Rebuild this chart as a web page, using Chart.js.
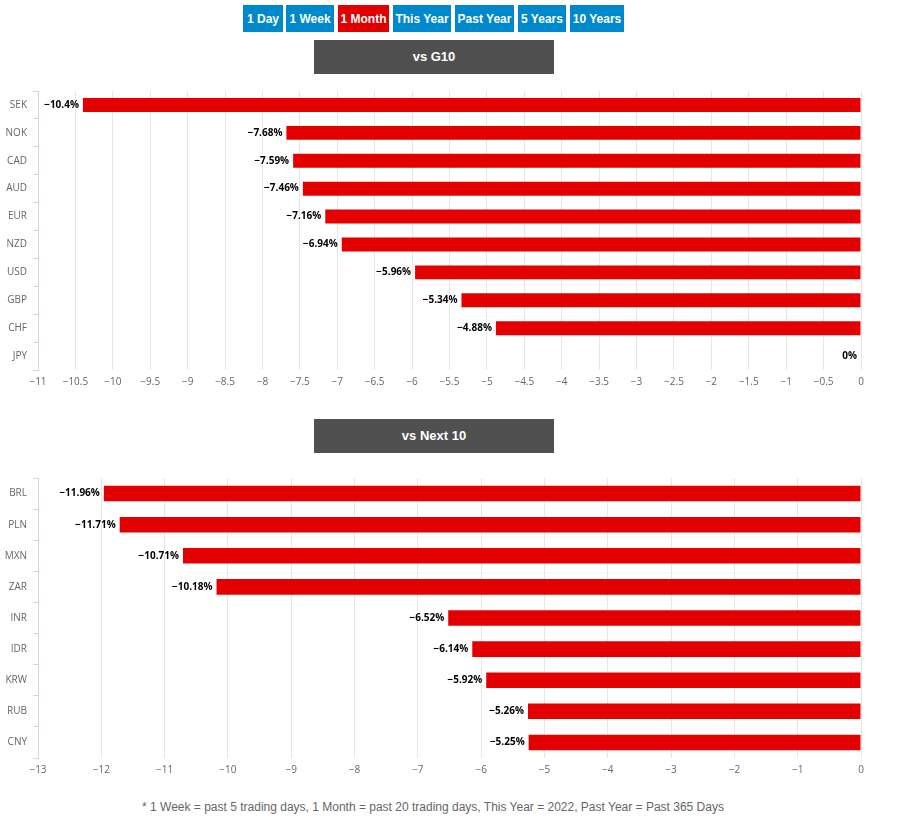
<!DOCTYPE html>
<html>
<head>
<meta charset="utf-8">
<script src="https://cdn.jsdelivr.net/npm/chart.js@4.4.0/dist/chart.umd.min.js"></script>
<style>
  body { margin: 0; width: 902px; height: 818px; background: #fff; position: relative; overflow: hidden; font-family: "Liberation Sans", Arial, sans-serif; }
  .btn { position: absolute; top: 5px; height: 27px; line-height: 28px; color: #fff; background: #0088cc; font-size: 12px; font-weight: bold; text-align: center; }
  .btn.active { background: #e00000; }
  .title { position: absolute; left: 314px; width: 240px; height: 34px; line-height: 34px; background: #505050; color: #fff; font-size: 13px; font-weight: bold; text-align: center; }
  .box { position: absolute; left: 0; width: 902px; }
  #note { position: absolute; top: 800px; left: 0; width: 866px; text-align: center; font-size: 12px; color: #666; }
</style>
</head>
<body>
<div class="btn" style="left:243px;width:40px">1 Day</div>
<div class="btn" style="left:286px;width:48px">1 Week</div>
<div class="btn active" style="left:338px;width:51px">1 Month</div>
<div class="btn" style="left:393px;width:58px">This Year</div>
<div class="btn" style="left:455px;width:59px">Past Year</div>
<div class="btn" style="left:518px;width:48px">5 Years</div>
<div class="btn" style="left:570px;width:54px">10 Years</div>

<div class="title" style="top:40px">vs G10</div>
<div class="box" style="top:91px;height:301px"><canvas id="g10-chart"></canvas></div>

<div class="title" style="top:419px">vs Next 10</div>
<div class="box" style="top:478px;height:302px"><canvas id="next-chart"></canvas></div>

<div id="note">* 1 Week = past 5 trading days, 1 Month = past 20 trading days, This Year = 2022, Past Year = Past 365 Days</div>

<script>
'use strict';

// DATA

let g10Labels = ['SEK', 'NOK', 'CAD', 'AUD', 'EUR', 'NZD', 'USD', 'GBP', 'CHF', 'JPY'];
let g10Values = [-10.4, -7.68, -7.59, -7.46, -7.16, -6.94, -5.96, -5.34, -4.88, 0];

let nextLabels = ['BRL', 'PLN', 'MXN', 'ZAR', 'INR', 'IDR', 'KRW', 'RUB', 'CNY'];
let nextValues = [-11.96, -11.71, -10.71, -10.18, -6.52, -6.14, -5.92, -5.26, -5.25];

let g10Min = -11;
let g10Step = 0.5;
let nextMin = -13;
let nextStep = 1;

// HELPERS

function minus(value) {
  return String(value).replace('-', '\u2212');
}

// draws the value labels just left of each bar end
let barLabels = {
  id: 'barLabels',
  afterDatasetsDraw(chart) {
    let ctx = chart.ctx;
    let meta = chart.getDatasetMeta(0);
    let values = chart.data.datasets[0].data;
    ctx.save();
    ctx.font = 'bold 10px "Open Sans"';
    ctx.textAlign = 'right';
    ctx.textBaseline = 'middle';
    ctx.lineJoin = 'round';
    for (let i = 0; i < meta.data.length; i++) {
      let bar = meta.data[i];
      let text = minus(values[i]) + '%';
      ctx.strokeStyle = '#fff';
      ctx.lineWidth = 2;
      ctx.strokeText(text, bar.x - 4, bar.y);
      ctx.fillStyle = '#000';
      ctx.fillText(text, bar.x - 4, bar.y);
    }
    ctx.restore();
  }
};

function makeChart(id, labels, values, min, step) {
  let ctx = document.getElementById(id).getContext('2d');
  return new Chart(ctx, {
    type: 'bar',
    data: {
      labels: labels,
      datasets: [{
        data: values,
        backgroundColor: '#e30000',
        borderWidth: 0,
        barPercentage: 1,
        categoryPercentage: 0.5
      }]
    },
    options: {
      indexAxis: 'y',
      responsive: true,
      maintainAspectRatio: false,
      animation: false,
      layout: { padding: { top: 0, right: 41, bottom: 0, left: 0 } },
      plugins: {
        legend: { display: false },
        tooltip: { enabled: false }
      },
      scales: {
        x: {
          min: min,
          max: 0,
          ticks: {
            stepSize: step,
            color: '#666',
            padding: 6,
            font: { family: 'Open Sans', size: 10 },
            callback: value => minus(value)
          },
          grid: { color: '#e6e6e6', drawTicks: false },
          border: { display: false },
          afterFit: scale => { scale.height = 22; }
        },
        y: {
          ticks: {
            color: '#666',
            padding: 6,
            font: { family: 'Open Sans', size: 10 }
          },
          grid: { drawOnChartArea: false, drawTicks: true, tickLength: 5, color: '#ccd6eb' },
          border: { display: true, color: '#ccd6eb' },
          afterFit: scale => {
            scale.width = 38;
            scale.paddingTop = 0;
            scale.paddingBottom = 0;
          }
        }
      }
    },
    plugins: [barLabels]
  });
}

// RENDER

makeChart('g10-chart', g10Labels, g10Values, g10Min, g10Step);
makeChart('next-chart', nextLabels, nextValues, nextMin, nextStep);
</script>
</body>
</html>
